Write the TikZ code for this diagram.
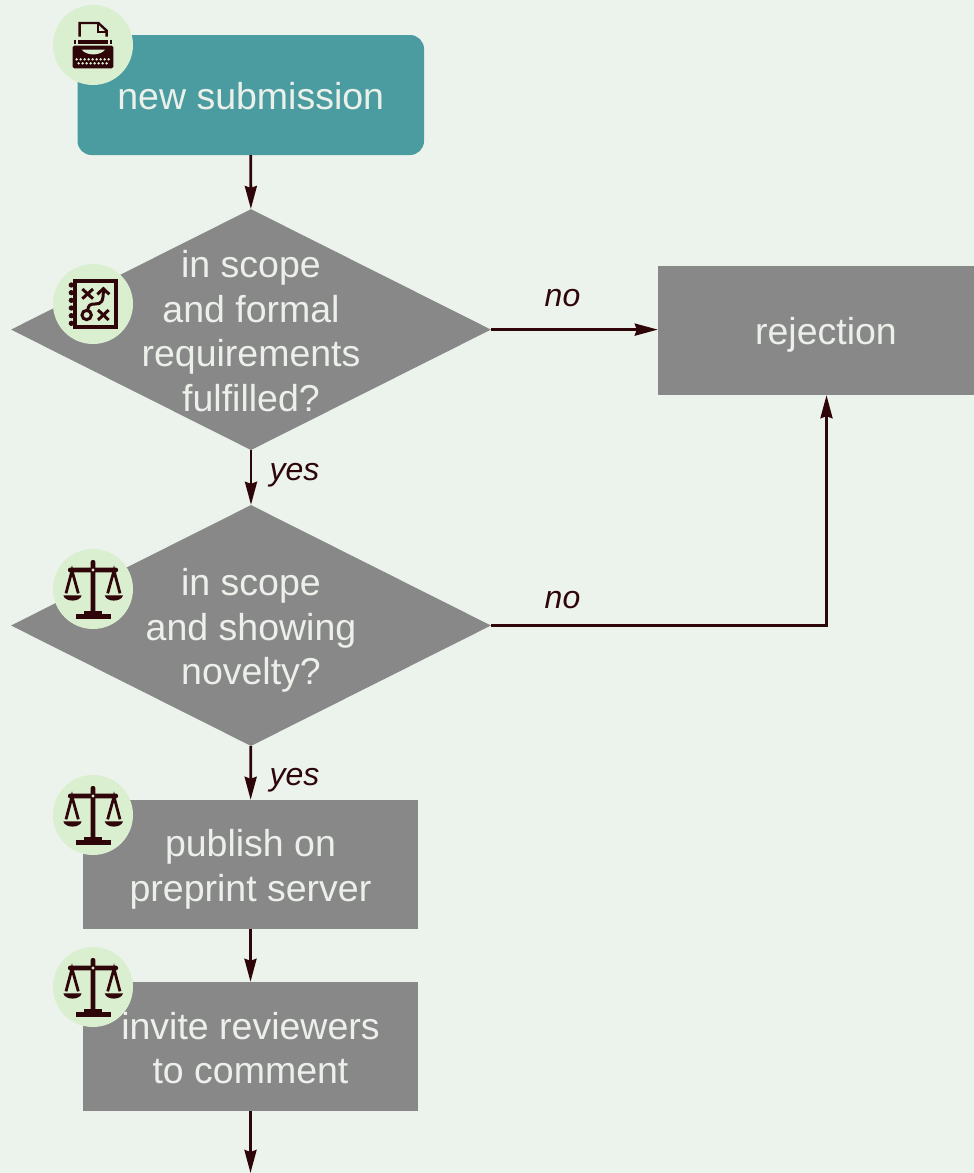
\documentclass[tikz,border=0pt]{standalone}
\usepackage{fontspec}
\setmainfont{Liberation Sans}
\usetikzlibrary{shapes.geometric,arrows.meta}
\definecolor{bgc}{HTML}{ECF3EC}
\definecolor{tealc}{HTML}{4A9CA0}
\definecolor{greyc}{HTML}{888888}
\definecolor{textc}{HTML}{ECF0EA}
\definecolor{circc}{HTML}{DAEED0}
\definecolor{darkc}{HTML}{2E0508}
\tikzset{
  boxbase/.style={fill=greyc,draw=none,text=textc,align=center,inner sep=0pt},
  greybox/.style={boxbase,rectangle,minimum width=335.5,minimum height=129},
  startbox/.style={boxbase,rectangle,fill=tealc,rounded corners=14,minimum width=346.5,minimum height=120},
  decision/.style={diamond,aspect=2,fill=greyc,draw=none,inner sep=0pt,minimum width=480,minimum height=241},
  dectext/.style={text=textc,align=center,font=\fontsize{37.5}{44.5}\selectfont,inner sep=0pt},
  flow/.style={draw=darkc,line width=2.8,-{Stealth[length=23,width=12,inset=2]}},
  lab/.style={text=darkc,font=\fontsize{32}{36}\selectfont\itshape,inner sep=0pt},
  badge/.style={circle,fill=circc,draw=none,minimum size=80,inner sep=0pt},
  iconlocal/.style={x=0.33333pt,y=-0.33333pt}
}
\newcommand{\typewriterIcon}[1]{%
\begin{scope}[shift={(#1)},iconlocal,shift={(-159,-135)}]
\draw[darkc,line width=2.4,line join=miter] (119,110)--(119,69)--(175,69)--(200,92)--(200,110);
\draw[darkc,line width=2.2] (174,69)--(174,97)--(200,97);
\fill[darkc] (115,119) rectangle (205,131);
\fill[darkc] (102,119) rectangle (108,131);
\fill[darkc] (210,119) rectangle (216,131);
\fill[darkc,rounded corners=1.5] (98,137) rectangle (220,205);
\fill[circc] (125,149) .. controls (140,168) and (180,168) .. (195,149) -- cycle;
\foreach \i in {0,...,8} \fill[circc] (110+12*\i,178) circle (4);
\foreach \i in {0,...,7} \fill[circc] (116+12*\i,190) circle (4);
\end{scope}}
\newcommand{\notebookIcon}[1]{%
\begin{scope}[shift={(#1)},iconlocal,shift={(-159,-147)}]
\draw[darkc,line width=3.8] (104,77) rectangle (229,217);
\foreach \yy in {90,113,136,159,182,205} \fill[darkc] (94,\yy) circle (8);
\draw[darkc,line width=3] (127,102)--(159,131) (159,102)--(127,131);
\draw[darkc,line width=3] (174,165)--(206,195) (206,165)--(174,195);
\draw[darkc,line width=3] (140,180) circle (14);
\draw[darkc,line width=3] (143,167) .. controls (145,150) and (150,147) .. (165,147) .. controls (185,147) and (190,140) .. (190,105);
\draw[darkc,line width=3] (172,118)--(190,101)--(208,118);
\end{scope}}
\newcommand{\scalesIcon}[1]{%
\begin{scope}[shift={(#1)},iconlocal,shift={(-159,-147)}]
\fill[darkc,rounded corners=2] (152,60) rectangle (166,225);
\fill[darkc,rounded corners=2] (84,83) rectangle (234,97);
\fill[circc] (159,90) circle (5);
\fill[darkc] (133,213) rectangle (186,226);
\fill[darkc] (107,223) rectangle (212,238);
\draw[darkc,line width=2.8] (78,160)--(96,92)--(115,160);
\draw[darkc,line width=2.8] (203,160)--(222,92)--(240,160);
\fill[darkc] (70,166) .. controls (75,187) and (120,187) .. (125,166) -- cycle;
\fill[darkc] (194,166) .. controls (199,187) and (244,187) .. (249,166) -- cycle;
\end{scope}}
\begin{document}
\begin{tikzpicture}[x=1pt,y=-1pt]
\fill[bgc] (0,0) rectangle (974,1173);
\useasboundingbox (0,0) rectangle (974,1173);
\clip (0,0) rectangle (974,1173);
\node[startbox] (start) at (250.75,95) {};
\node[dectext] (startt) at (250.75,96) {new submission};
\node[decision] (d1) at (251,329.6) {};
\node[dectext] (d1t) at (251,331) {in scope\\and formal\\requirements\\fulfilled?};
\node[decision] (d2) at (251,625.5) {};
\node[dectext] (d2t) at (251,630.4) {in scope\\and showing\\novelty?};
\node[greybox,minimum width=337] (rej) at (826.5,330.5) {};
\node[dectext] (rejt) at (826,335) {rejection};
\node[greybox] (pub) at (250.5,864.5) {};
\node[dectext] (pubt) at (250.5,869.5) {publish on\\preprint server};
\node[greybox] (inv) at (250.5,1046.5) {};
\node[dectext] (invt) at (250.5,1048) {invite reviewers\\to comment};
\coordinate (end) at (250.5,1173);
\draw[flow] (start) -- (d1);
\draw[flow] (d1) -- (d2);
\draw[flow] (d2) -- (pub);
\draw[flow] (pub) -- (inv);
\draw[flow] (inv) -- (end);
\draw[flow] (d1.east) -- (rej.west |- d1.east);
\draw[flow] (d2.east) -| (rej.south);
\node[lab] (no1) at (562.5,298) {no};
\node[lab] (no2) at (562.5,600) {no};
\node[lab] (yes1) at (294.5,475) {yes};
\node[lab] (yes2) at (294.5,780) {yes};
\node[badge] (b1) at (93,45) {};
\node[badge] (b2) at (93,304) {};
\node[badge] (b3) at (93,589) {};
\node[badge] (b4) at (93,815) {};
\node[badge] (b5) at (93,987) {};
\typewriterIcon{b1.center}
\notebookIcon{b2.center}
\scalesIcon{b3.center}
\scalesIcon{b4.center}
\scalesIcon{b5.center}
\end{tikzpicture}
\end{document}
